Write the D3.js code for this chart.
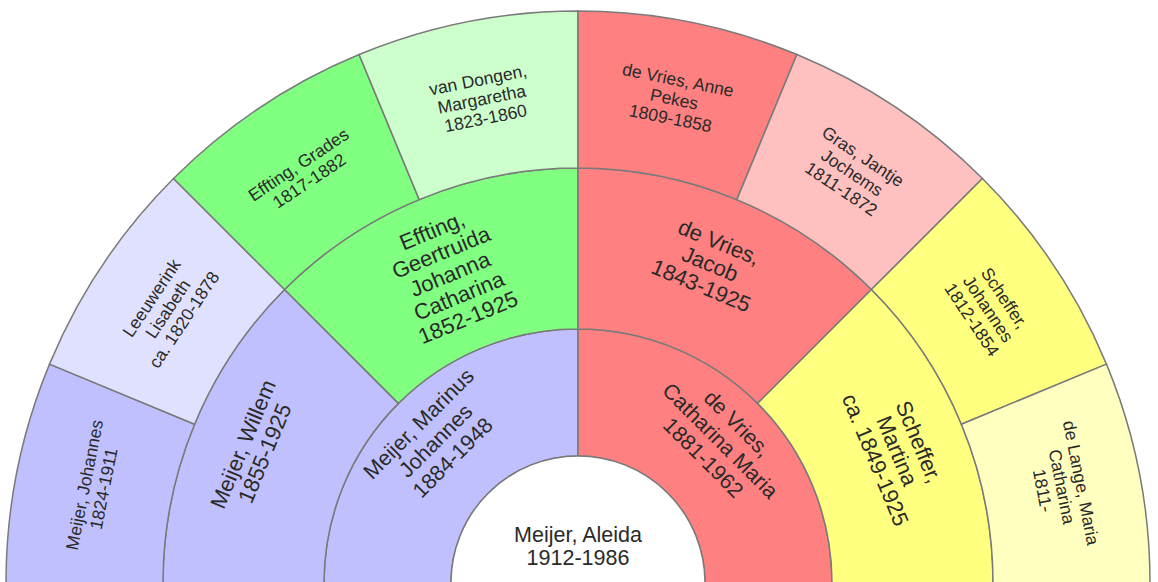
<!DOCTYPE html>
<html>
<head>
<meta charset="utf-8">
<style>
  body { margin: 0; background: #fff; }
  svg { display: block; }
  .cell path { stroke: #7a7a7a; stroke-width: 1.5px; }
  .cell text { font-family: "Liberation Sans", Arial, sans-serif; fill: #2a2a2a; }
</style>
<script src="https://cdn.jsdelivr.net/npm/d3@7"></script>
</head>
<body>
<svg id="chart"></svg>
<script>
// people per generation, each as the lines that are written in its cell
var rootPerson = ["Meijer, Aleida", "1912-1986"];
var parents = [
  ["Meijer, Marinus", "Johannes", "1884-1948"],
  ["de Vries,", "Catharina Maria", "1881-1962"]
];
var grandparents = [
  ["Meijer, Willem", "1855-1925"],
  ["Effting,", "Geertruida", "Johanna", "Catharina", "1852-1925"],
  ["de Vries,", "Jacob", "1843-1925"],
  ["Scheffer,", "Martina", "ca. 1849-1925"]
];
var greatGrandparents = [
  ["Meijer, Johannes", "1824-1911"],
  ["Leeuwerink", "Lisabeth", "ca. 1820-1878"],
  ["Effting, Grades", "1817-1882"],
  ["van Dongen,", "Margaretha", "1823-1860"],
  ["de Vries, Anne", "Pekes", "1809-1858"],
  ["Gras, Jantje", "Jochems", "1811-1872"],
  ["Scheffer,", "Johannes", "1812-1854"],
  ["de Lange, Maria", "Catharina", "1811-"]
];
var lineages = ["Meijer", "Effting", "de Vries", "Scheffer"];

var width = 1158;
var height = 582;
var cx = 578;
var cy = 583;
var radii = [127, 254, 415, 572];          // ring edges
var fontSizes = [21.5, 21.5, 22, 17.5];    // per generation (0 = centre)
var lineHeights = [23, 24, 23.5, 19.5];

var lineageColor = d3.scaleOrdinal().domain(lineages)
  .range(["#c0c0ff", "#80ff80", "#ff8080", "#ffff80"]);
var lineageLight = d3.scaleOrdinal().domain(lineages)
  .range(["#e0e0ff", "#ccffcc", "#ffc0c0", "#ffffc0"]);

var generations = [parents, grandparents, greatGrandparents];

var cells = [];
generations.forEach(function(people, g) {
  var n = people.length;
  var angle = d3.scaleLinear().domain([0, n]).range([-Math.PI / 2, Math.PI / 2]);
  people.forEach(function(lines, i) {
    var branch;
    if (g === 0) branch = lineages[i * 2];
    else branch = lineages[Math.floor(i * 4 / n)];
    var female = g === 2 && i % 2 === 1;
    cells.push({
      gen: g + 1,
      lines: lines,
      startAngle: angle(i),
      endAngle: angle(i + 1),
      innerRadius: radii[g],
      outerRadius: radii[g + 1],
      fill: female ? lineageLight(branch) : lineageColor(branch)
    });
  });
});

// inner rings keep their text blocks pushed out a bit when they have few lines
function textShift(d) {
  if (d.gen === 3) return 0;
  return (5 - d.lines.length) * 5.5;
}

var svg = d3.select("#chart")
  .attr("width", width)
  .attr("height", height);

var chart = svg.append("g")
  .attr("transform", "translate(" + cx + "," + cy + ")");

var arc = d3.arc();

var cell = chart.selectAll("g.cell")
  .data(cells)
  .enter().append("g")
    .attr("class", "cell");

cell.append("path")
  .attr("d", arc)
  .attr("fill", function(d) { return d.fill; });

cell.append("text")
  .attr("text-anchor", "middle")
  .attr("font-size", function(d) { return fontSizes[d.gen]; })
  .attr("transform", function(d) {
    var a = (d.startAngle + d.endAngle) / 2;
    var r = (d.innerRadius + d.outerRadius) / 2 + textShift(d);
    return "translate(" + (r * Math.sin(a)) + "," + (-r * Math.cos(a)) + ")rotate(" + (a * 180 / Math.PI) + ")";
  })
  .each(function(d) {
    var lh = lineHeights[d.gen];
    var el = d3.select(this);
    d.lines.forEach(function(line, k) {
      el.append("tspan")
        .attr("x", 0)
        .attr("y", (k - (d.lines.length - 1) / 2) * lh)
        .attr("dy", "0.35em")
        .text(line);
    });
  });

// centre person
var centre = chart.append("g").attr("class", "cell");
centre.append("path")
  .attr("d", arc({innerRadius: 0, outerRadius: radii[0], startAngle: -Math.PI / 2, endAngle: Math.PI / 2}))
  .attr("fill", "#ffffff");
centre.append("text")
  .attr("text-anchor", "middle")
  .attr("font-size", fontSizes[0])
  .attr("transform", "translate(0,-37)")
  .selectAll("tspan")
  .data(rootPerson)
  .enter().append("tspan")
    .attr("x", 0)
    .attr("y", function(d, k) { return (k - (rootPerson.length - 1) / 2) * lineHeights[0]; })
    .attr("dy", "0.35em")
    .text(function(d) { return d; });
</script>
</body>
</html>
